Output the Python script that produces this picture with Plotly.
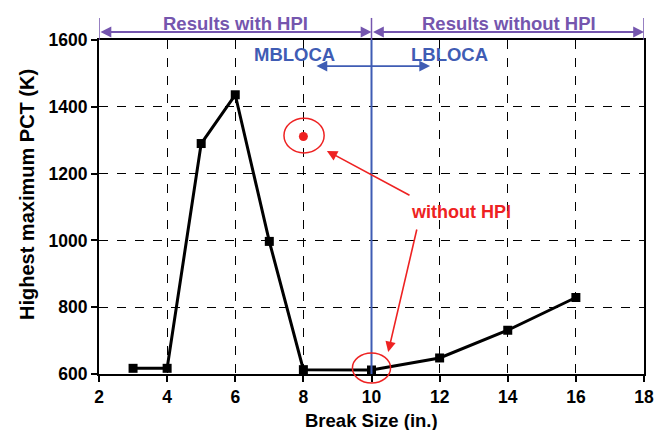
import plotly.graph_objects as go

break_size = [3, 4, 5, 6, 7, 8, 10, 12, 14, 16]
pct = [617, 617, 1290, 1436, 997, 613, 612, 648, 731, 829]
nohpi_x = [8]
nohpi_y = [1311]
x_ticks = [2, 4, 6, 8, 10, 12, 14, 16, 18]
y_ticks = [600, 800, 1000, 1200, 1400, 1600]

FONT = "Liberation Sans"
PURPLE = "#7556ae"
BLUE = "#3f5cb4"
RED = "#ee2222"

fig = go.Figure()
fig.add_trace(go.Scatter(x=break_size, y=pct, mode="lines+markers",
                         line=dict(color="black", width=3),
                         marker=dict(symbol="square", size=9, color="black"),
                         showlegend=False))
fig.add_trace(go.Scatter(x=nohpi_x, y=nohpi_y, mode="markers",
                         marker=dict(symbol="circle", size=9, color=RED),
                         showlegend=False))

shapes = []
shapes.append(dict(type="line", xref="x", yref="paper", x0=10, x1=10, y0=0, y1=1.0,
                   line=dict(color=BLUE, width=2)))
for xv in [2, 10, 18]:
    shapes.append(dict(type="line", xref="x", yref="paper", x0=xv, x1=xv, y0=1.0, y1=1.066,
                       line=dict(color=PURPLE, width=1.5)))
shapes.append(dict(type="circle", xref="x", yref="y", x0=7.43, x1=8.61, y0=1262, y1=1366,
                   line=dict(color=RED, width=1.5)))
# circle around the 10-in. point drawn in paper coordinates so it can extend below the axis
shapes.append(dict(type="circle", xref="paper", yref="paper", x0=0.465, x1=0.535, y0=-0.027, y1=0.063,
                   line=dict(color=RED, width=1.5)))

ann = []
for (a, b) in [(2, 10), (10, 18)]:
    ann.append(dict(x=b, y=1.024, xref="x", yref="y domain", ax=a, ay=1.024, axref="x", ayref="y domain",
                    showarrow=True, arrowhead=2, arrowside="end+start", arrowsize=1.2,
                    arrowwidth=1.8, arrowcolor=PURPLE, text=""))
ann.append(dict(x=6, y=1.05, xref="x", yref="paper", text="<b>Results with HPI</b>", showarrow=False,
                yanchor="middle", font=dict(family=FONT, size=18.5, color=PURPLE)))
ann.append(dict(x=14.05, y=1.05, xref="x", yref="paper", text="<b>Results without HPI</b>", showarrow=False,
                yanchor="middle", font=dict(family=FONT, size=18.5, color=PURPLE)))
ann.append(dict(x=7.73, y=1558, xref="x", yref="y", text="<b>MBLOCA</b>", showarrow=False,
                font=dict(family=FONT, size=18.5, color=BLUE)))
ann.append(dict(x=12.28, y=1558, xref="x", yref="y", text="<b>LBLOCA</b>", showarrow=False,
                font=dict(family=FONT, size=18.5, color=BLUE)))
ann.append(dict(x=11.72, y=1522, xref="x", yref="y", ax=8.34, ay=1522, axref="x", ayref="y",
                showarrow=True, arrowhead=2, arrowside="end+start", arrowsize=1.2,
                arrowwidth=1.8, arrowcolor=BLUE, text=""))
ann.append(dict(x=12.63, y=1085, xref="x", yref="y", text="<b>without HPI</b>", showarrow=False,
                font=dict(family=FONT, size=18, color=RED)))
ann.append(dict(x=8.69, y=1268, xref="x", yref="y", ax=11.16, ay=1133, axref="x", ayref="y",
                showarrow=True, arrowhead=2, arrowsize=1.3, arrowwidth=1.6, arrowcolor=RED, text=""))
ann.append(dict(x=10.49, y=666, xref="x", yref="y", ax=11.34, ay=1037, axref="x", ayref="y",
                showarrow=True, arrowhead=2, arrowsize=1.3, arrowwidth=1.6, arrowcolor=RED, text=""))
# axis titles
ann.append(dict(x=0.5, y=-0.138, xref="paper", yref="paper", text="<b>Break Size (in.)</b>",
                showarrow=False, yanchor="middle", font=dict(family=FONT, size=18.5, color="black")))
ann.append(dict(x=-0.132, y=0.536, xref="paper", yref="paper", text="<b>Highest maximum PCT (K)</b>",
                showarrow=False, textangle=-90, xanchor="center", yanchor="middle",
                font=dict(family=FONT, size=20, color="black")))

axis_common = dict(showline=True, linecolor="black", linewidth=2, mirror=True,
                   ticks="outside", ticklen=6, tickwidth=2, tickcolor="black",
                   showgrid=True, gridcolor="black", griddash="dash", gridwidth=1,
                   zeroline=False, automargin=False,
                   tickfont=dict(family=FONT, size=17.5, color="black"))

fig.update_layout(
    width=670, height=430,
    margin=dict(l=91, r=34, t=32, b=64),
    paper_bgcolor="white", plot_bgcolor="white",
    xaxis=dict(range=[2, 18], tickvals=x_ticks, ticktext=[f"<b>{v}</b>" for v in x_ticks],
               **axis_common),
    yaxis=dict(range=[600, 1600], tickvals=y_ticks, ticktext=[f"<b>{v}</b>" for v in y_ticks],
               **axis_common),
    shapes=shapes, annotations=ann,
)
fig.write_html("out.html")
